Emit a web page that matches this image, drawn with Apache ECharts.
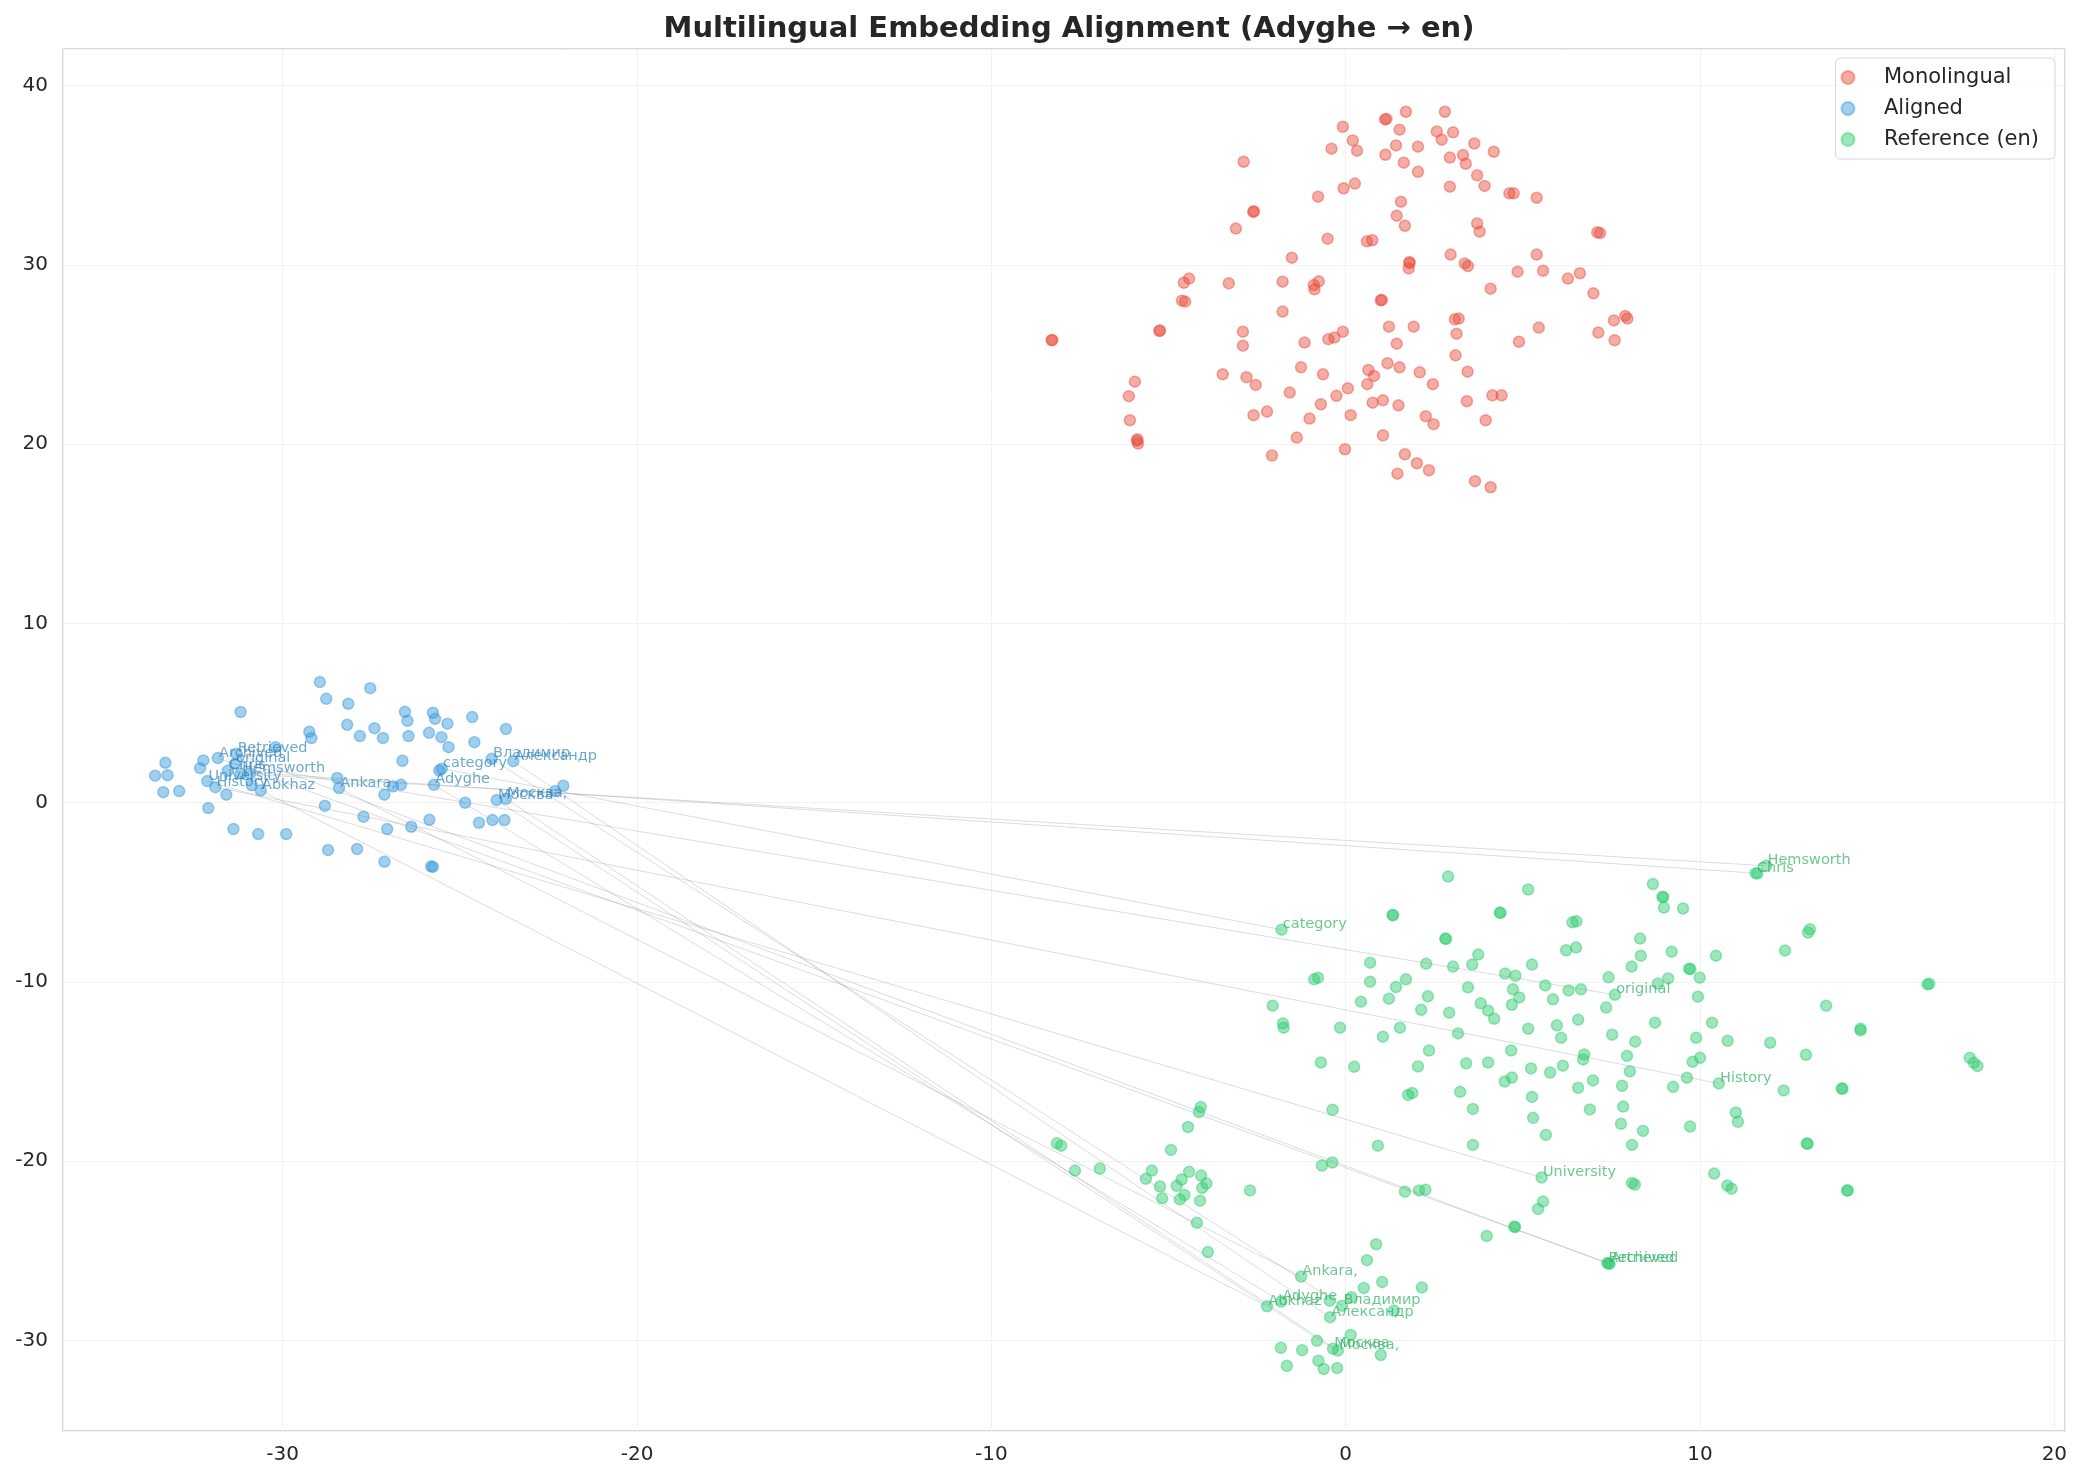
<!DOCTYPE html>
<html>
<head>
<meta charset="utf-8">
<script src="https://cdn.jsdelivr.net/npm/echarts@6/dist/echarts.min.js"></script>
<style>
  html, body { margin: 0; padding: 0; background: #fff; }
  #chart { width: 2083px; height: 1483px; }
</style>
</head>
<body>
<div id="chart"></div>
<script>
// monolingual embeddings (red cluster)
const monolingual = [
  [1.70,38.55],[2.80,38.55],[1.11,38.12],[1.15,38.15],[-0.08,37.71],[1.52,37.55],[2.57,37.45],[3.03,37.40],
  [0.20,36.95],[2.71,36.99],[1.42,36.67],[2.04,36.60],[3.63,36.78],[-0.40,36.49],[0.32,36.38],[4.18,36.32],
  [1.12,36.15],[2.94,35.99],[3.31,36.13],[3.39,35.65],[1.64,35.71],[-2.88,35.76],[2.04,35.20],[3.71,35.00],
  [3.92,34.41],[0.26,34.54],[-0.06,34.28],[2.94,34.37],[4.62,34.00],[4.74,34.00],[5.39,33.75],[-0.78,33.81],
  [1.56,33.53],[-2.61,32.96],[-2.59,33.00],[-3.10,32.03],[1.44,32.75],[1.67,32.19],[3.71,32.32],[3.78,31.86],
  [7.10,31.82],[7.18,31.78],[-0.51,31.47],[0.60,31.32],[0.75,31.38],[-1.52,30.41],[2.96,30.58],[5.39,30.58],
  [1.80,30.17],[1.80,30.10],[1.78,29.81],[3.36,30.09],[3.45,29.94],[4.85,29.63],[5.57,29.68],[6.27,29.24],
  [6.61,29.54],[4.09,28.68],[6.99,28.42],[-4.42,29.24],[-4.57,29.01],[-3.30,28.98],[-1.78,29.07],[-0.76,29.09],
  [-0.90,28.88],[-0.88,28.64],[-4.62,28.01],[-4.53,27.96],[0.99,28.03],[1.02,28.05],[-1.78,27.40],[3.08,26.97],
  [3.19,27.01],[7.89,27.16],[7.95,27.01],[7.57,26.91],[-8.30,25.80],[-8.28,25.82],[-5.26,26.32],[-5.24,26.35],
  [-2.90,26.28],[-2.90,25.50],[1.22,26.56],[1.92,26.56],[3.13,26.17],[5.45,26.51],[7.13,26.23],[7.59,25.80],
  [4.89,25.72],[-1.16,25.67],[-0.49,25.86],[-0.32,25.95],[-0.08,26.28],[1.44,25.61],[3.10,24.96],[-5.95,23.49],
  [-6.12,22.68],[-6.09,21.34],[-5.89,20.19],[-5.86,20.04],[-5.88,20.28],[-3.47,23.90],[-2.80,23.74],[-2.54,23.31],
  [-1.26,24.29],[-0.64,23.90],[0.64,24.14],[0.80,23.81],[1.18,24.52],[1.52,24.29],[2.09,24.01],[3.44,24.05],
  [2.46,23.35],[0.61,23.35],[0.06,23.12],[-0.26,22.70],[-1.58,22.88],[-0.70,22.23],[0.76,22.32],[1.05,22.45],
  [1.49,22.17],[3.42,22.40],[4.14,22.73],[4.40,22.73],[-2.60,21.62],[-2.22,21.82],[-1.02,21.43],[0.14,21.62],
  [2.26,21.56],[2.48,21.12],[3.95,21.34],[-1.38,20.37],[1.05,20.50],[-2.08,19.37],[-0.02,19.72],[1.67,19.44],
  [2.01,18.94],[2.35,18.55],[1.46,18.36],[3.65,17.94],[4.09,17.60]
];

// aligned embeddings (blue cluster), unlabelled points
const aligned = [
  [-28.95,6.73],[-27.53,6.39],[-28.77,5.80],[-28.15,5.52],[-31.19,5.06],[-26.55,5.07],[-25.76,5.02],[-26.48,4.57],
  [-25.70,4.68],[-25.35,4.41],[-24.65,4.78],[-23.70,4.11],[-29.25,3.96],[-29.19,3.61],[-28.18,4.35],[-27.82,3.72],
  [-27.41,4.16],[-27.17,3.61],[-26.45,3.72],[-25.87,3.90],[-25.52,3.66],[-25.32,3.10],[-24.59,3.38],[-33.31,2.23],
  [-32.24,2.36],[-33.60,1.51],[-33.25,1.54],[-32.33,1.93],[-33.37,0.59],[-32.92,0.65],[-31.59,0.45],[-32.10,-0.30],
  [-31.39,-1.47],[-30.69,-1.75],[-29.90,-1.75],[-30.20,3.10],[-30.87,0.97],[-30.92,1.62],[-28.46,1.38],[-25.58,1.80],
  [-26.62,2.34],[-28.81,-0.17],[-27.13,0.45],[-26.89,0.91],[-26.66,1.00],[-27.72,-0.78],[-27.05,-1.47],[-26.37,-1.34],
  [-25.86,-0.95],[-24.85,0.00],[-24.46,-1.12],[-24.08,-0.97],[-23.74,-0.97],[-22.31,0.65],[-22.08,0.95],[-28.72,-2.64],
  [-27.90,-2.58],[-27.13,-3.29],[-25.81,-3.55],[-25.76,-3.58]
];

// reference (en) embeddings (green cluster), unlabelled points
const reference = [
  [1.76,-16.30],[1.88,-16.20],[-0.37,-17.13],[0.91,-19.13],[-4.09,-16.98],[-4.14,-17.26],[-4.45,-18.09],[-4.93,-19.37],
  [-8.15,-19.00],[-8.03,-19.13],[-7.64,-20.52],[-6.94,-20.41],[-5.64,-20.98],[-5.47,-20.52],[-5.24,-21.41],[-5.18,-22.07],
  [-4.77,-21.37],[-4.63,-21.02],[-4.42,-20.59],[-4.08,-20.80],[-3.93,-21.24],[-4.05,-21.48],[-4.55,-21.89],[-4.68,-22.13],
  [-4.11,-22.20],[-2.70,-21.63],[-4.20,-23.43],[-3.89,-25.07],[-0.67,-20.24],[-0.38,-20.07],[1.67,-21.70],[2.07,-21.63],
  [2.25,-21.59],[0.86,-24.63],[0.60,-25.52],[1.03,-26.74],[0.51,-27.07],[2.15,-27.04],[-0.45,-27.78],[0.16,-27.59],
  [1.36,-28.33],[0.14,-29.69],[-0.81,-30.02],[-1.83,-30.41],[-1.23,-30.54],[0.99,-30.81],[-1.66,-31.41],[-0.77,-31.13],
  [-0.62,-31.59],[-0.24,-31.54],
  [2.89,-4.12],[5.15,-4.84],[1.32,-6.26],[1.34,-6.28],[4.35,-6.13],[4.37,-6.15],[2.81,-7.58],[2.83,-7.60],
  [6.40,-6.67],[6.51,-6.61],[6.22,-8.23],[6.50,-8.08],[0.69,-8.92],[2.27,-8.98],[3.03,-9.14],[3.57,-9.03],
  [3.74,-8.47],[5.26,-9.03],[4.50,-9.53],[4.79,-9.65],[7.42,-9.74],[8.07,-9.14],[-0.89,-9.85],[-0.78,-9.76],
  [0.69,-9.98],[1.70,-9.85],[1.42,-10.28],[1.22,-10.93],[0.43,-11.10],[2.32,-10.80],[2.13,-11.55],[3.45,-10.30],
  [5.63,-10.19],[6.29,-10.47],[6.64,-10.41],[4.72,-10.41],[4.90,-10.86],[4.69,-11.27],[3.81,-11.19],[4.02,-11.60],
  [4.19,-12.05],[2.92,-11.71],[5.85,-10.97],[7.35,-11.43],[-2.06,-11.32],[-1.77,-12.31],[-1.75,-12.55],[-0.16,-12.55],
  [1.05,-13.05],[1.53,-12.55],[3.17,-12.87],[5.15,-12.61],[5.96,-12.42],[6.08,-13.11],[6.56,-12.10],[7.52,-12.94],
  [8.17,-13.33],[2.35,-13.82],[4.67,-13.82],[6.73,-14.04],[6.70,-14.32],[7.94,-14.12],[-0.70,-14.49],[0.24,-14.73],
  [2.04,-14.71],[3.40,-14.54],[4.02,-14.49],[5.23,-14.82],[5.77,-15.05],[6.13,-14.67],[8.02,-14.99],[4.49,-15.55],
  [4.69,-15.33],[6.98,-15.49],[6.56,-15.90],[7.80,-15.79],[3.23,-16.13],[5.26,-16.41],[3.59,-17.08],[5.29,-17.58],
  [6.89,-17.11],[7.83,-16.95],[7.77,-17.91],[5.65,-18.53],[8.08,-19.09],[3.59,-19.09],[8.08,-21.21],[8.16,-21.30],
  [5.57,-22.25],[5.43,-22.66],[4.76,-23.65],[4.78,-23.67],[3.98,-24.17],[7.42,-25.70],
  [8.67,-4.54],[8.94,-5.25],[8.96,-5.27],[8.98,-5.85],[9.52,-5.90],[11.62,-3.95],[13.10,-7.06],[13.05,-7.24],
  [12.40,-8.25],[8.31,-7.58],[8.33,-8.53],[9.20,-8.31],[10.45,-8.53],[9.69,-9.26],[9.73,-9.28],[9.99,-9.76],
  [9.10,-9.80],[8.81,-10.09],[9.94,-10.82],[16.42,-10.13],[16.47,-10.10],[13.56,-11.32],[14.53,-12.61],[14.53,-12.70],
  [8.73,-12.27],[10.34,-12.27],[9.89,-13.11],[10.78,-13.28],[11.98,-13.39],[12.99,-14.06],[9.79,-14.45],[10.00,-14.23],
  [9.63,-15.34],[9.24,-15.85],[12.36,-16.05],[14.00,-15.94],[14.02,-15.96],[17.61,-14.23],[17.73,-14.51],[17.83,-14.69],
  [11.01,-17.28],[11.07,-17.80],[9.72,-18.06],[8.39,-18.31],[13.01,-19.01],[13.04,-19.03],[10.40,-20.69],[10.77,-21.36],
  [10.89,-21.53],[14.15,-21.64],[14.17,-21.62]
];

// annotated words: aligned position -> reference position
const words = ['Retrieved', 'Archived', 'original', 'Chris', 'Hemsworth', 'University', 'History', 'Abkhaz',
  'Ankara,', 'category', 'Adyghe', 'Владимир', 'Александр', 'Москва', 'Москва,'];
const alignedWordPos = [
  [-31.30,2.73],[-31.83,2.49],[-31.35,2.17],[-31.55,1.78],[-31.18,1.62],[-32.13,1.21],[-31.90,0.87],[-30.62,0.69],
  [-28.41,0.82],[-25.51,1.90],[-25.73,1.00],[-24.10,2.45],[-23.49,2.32],[-23.96,0.15],[-23.70,0.22]
];
const refWordPos = [
  [7.38,-25.68],[7.45,-25.72],[7.60,-10.71],[11.57,-3.93],[11.87,-3.52],[5.53,-20.91],[10.53,-15.66],[-2.22,-28.09],
  [-1.26,-26.43],[-1.81,-7.08],[-1.82,-27.83],[-0.10,-28.06],[-0.44,-28.70],[-0.36,-30.46],[-0.22,-30.56]
];

const xTicks = [-30, -20, -10, 0, 10, 20];
const yTicks = [-30, -20, -10, 0, 10, 20, 30, 40];

const RED = 'rgba(231,76,60,0.58)';
const BLUE = 'rgba(52,152,219,0.58)';
const GREEN = 'rgba(46,204,113,0.58)';
const FONT = 'DejaVu Sans';
const SIZE = 11;

const chart = echarts.init(document.getElementById('chart'), null, { renderer: 'canvas' });

const wordLabel = (color) => ({
  show: true,
  position: [SIZE / 2 + 2, SIZE / 2 + 3],
  align: 'left',
  verticalAlign: 'bottom',
  fontFamily: FONT,
  fontSize: 14.5,
  color
});

const pointStyle = (color) => ({
  color,
  borderColor: color,
  borderWidth: 1.5
});

const option = {
  backgroundColor: '#ffffff',
  animation: false,
  title: {
    text: 'Multilingual Embedding Alignment (Adyghe → en)',
    left: 1064,
    top: 10,
    textAlign: 'center',
    textStyle: {
      fontFamily: FONT,
      fontSize: 29,
      fontWeight: 'bold',
      color: '#262626'
    }
  },
  legend: {
    orient: 'vertical',
    right: 28,
    top: 58,
    padding: [9, 16, 9, 5],
    itemGap: 10,
    itemWidth: 50,
    itemHeight: 13,
    icon: 'circle',
    backgroundColor: 'rgba(255,255,255,0.8)',
    borderColor: '#d6d6d6',
    borderWidth: 1,
    borderRadius: 5,
    textStyle: { fontFamily: FONT, fontSize: 21, color: '#262626', padding: [0, 0, 0, 6] },
    data: ['Monolingual', 'Aligned', 'Reference (en)']
  },
  grid: {
    left: 63,
    right: 18,
    top: 49,
    bottom: 52,
    show: true,
    borderColor: '#cccccc',
    borderWidth: 1.5,
    containLabel: false
  },
  xAxis: {
    type: 'value',
    min: -36.2,
    max: 20.3,
    splitNumber: 6,
    axisLine: { show: false },
    axisTick: { show: false },
    axisLabel: {
      margin: 14,
      fontFamily: FONT,
      fontSize: 20,
      color: '#262626',
      showMinLabel: false,
      showMaxLabel: false,
      formatter: v => (xTicks.includes(Math.round(v * 1000) / 1000) ? String(v) : '')
    },
    splitLine: { show: true, lineStyle: { color: '#f2f2f2', width: 1 } }
  },
  yAxis: {
    type: 'value',
    min: -35.05,
    max: 42.05,
    splitNumber: 8,
    axisLine: { show: false },
    axisTick: { show: false },
    axisLabel: {
      margin: 15,
      fontFamily: FONT,
      fontSize: 20,
      color: '#262626',
      showMinLabel: false,
      showMaxLabel: false,
      formatter: v => (yTicks.includes(Math.round(v * 1000) / 1000) ? String(v) : '')
    },
    splitLine: { show: true, lineStyle: { color: '#f2f2f2', width: 1 } }
  },
  series: [
    {
      name: 'links',
      type: 'lines',
      coordinateSystem: 'cartesian2d',
      silent: true,
      z: 1,
      lineStyle: { color: '#8c8c8c', width: 1, opacity: 0.3 },
      data: words.map((w, i) => ({ coords: [alignedWordPos[i], refWordPos[i]] }))
    },
    {
      name: 'Monolingual',
      type: 'scatter',
      symbolSize: SIZE,
      z: 2,
      itemStyle: pointStyle(RED),
      data: monolingual
    },
    {
      name: 'Aligned',
      type: 'scatter',
      symbolSize: SIZE,
      z: 3,
      itemStyle: pointStyle(BLUE),
      data: aligned.map(p => ({ value: p })).concat(
        words.map((w, i) => ({
          value: alignedWordPos[i],
          label: Object.assign(wordLabel('rgba(41,128,185,0.85)'), { formatter: w })
        }))
      )
    },
    {
      name: 'Reference (en)',
      type: 'scatter',
      symbolSize: SIZE,
      z: 4,
      itemStyle: pointStyle(GREEN),
      data: reference.map(p => ({ value: p })).concat(
        words.map((w, i) => ({
          value: refWordPos[i],
          label: Object.assign(wordLabel('rgba(39,174,96,0.85)'), { formatter: w })
        }))
      )
    }
  ]
};

chart.setOption(option);
</script>
</body>
</html>
